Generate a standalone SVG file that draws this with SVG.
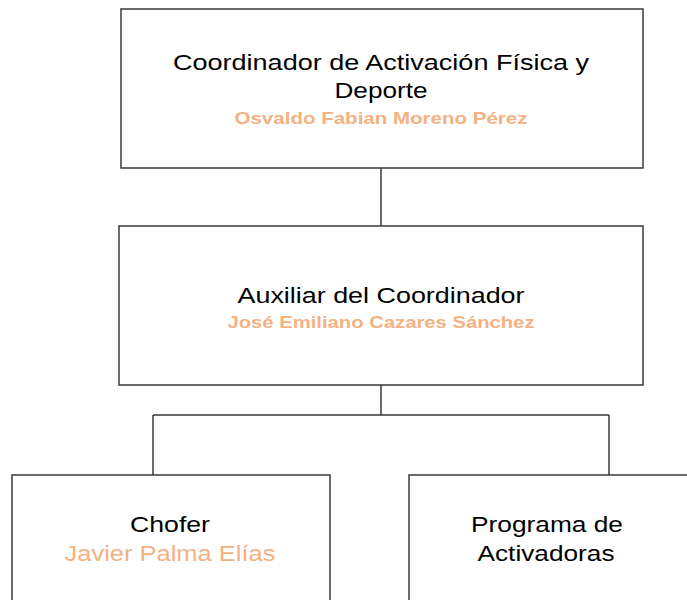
<svg xmlns="http://www.w3.org/2000/svg" width="687" height="600" viewBox="0 0 687 600">
<style>
.box{fill:#fff;stroke:#3a3a3a;stroke-width:1.5}
.t{font-family:"Liberation Sans",Arial,sans-serif;font-size:22px;fill:#000;text-anchor:middle}
.n{font-family:"Liberation Sans",Arial,sans-serif;font-size:17px;font-weight:bold;fill:#F4B183;text-anchor:middle}
.n2{font-family:"Liberation Sans",Arial,sans-serif;font-size:22px;fill:#F4B183;text-anchor:middle}
.c{stroke:#3a3a3a;stroke-width:1.5;fill:none}
</style>
<rect width="687" height="600" fill="#fff"/>
<g id="connectors">
<path class="c" d="M381 168V226"/>
<path class="c" d="M381 385V415M153 415H609M153 415V475M609 415V475"/>
</g>
<g id="coordinador">
<rect class="box" x="121" y="9" width="522" height="159"/>
<text class="t" x="381" y="70" textLength="416" lengthAdjust="spacingAndGlyphs">Coordinador de Activación Física y</text>
<text class="t" x="381" y="98" textLength="93" lengthAdjust="spacingAndGlyphs">Deporte</text>
<text class="n" x="381" y="124" textLength="293" lengthAdjust="spacingAndGlyphs">Osvaldo Fabian Moreno Pérez</text>
</g>
<g id="auxiliar">
<rect class="box" x="119" y="226" width="524" height="159"/>
<text class="t" x="381" y="303" textLength="287" lengthAdjust="spacingAndGlyphs">Auxiliar del Coordinador</text>
<text class="n" x="381" y="328" textLength="307" lengthAdjust="spacingAndGlyphs">José Emiliano Cazares Sánchez</text>
</g>
<g id="chofer">
<rect class="box" x="12" y="475" width="318" height="140"/>
<text class="t" x="170" y="532" textLength="80" lengthAdjust="spacingAndGlyphs">Chofer</text>
<text class="n2" x="170" y="561" textLength="211" lengthAdjust="spacingAndGlyphs">Javier Palma Elías</text>
</g>
<g id="programa">
<rect class="box" x="409" y="475" width="290" height="140"/>
<text class="t" x="547" y="532" textLength="152" lengthAdjust="spacingAndGlyphs">Programa de</text>
<text class="t" x="546" y="561" textLength="137" lengthAdjust="spacingAndGlyphs">Activadoras</text>
</g>
</svg>
